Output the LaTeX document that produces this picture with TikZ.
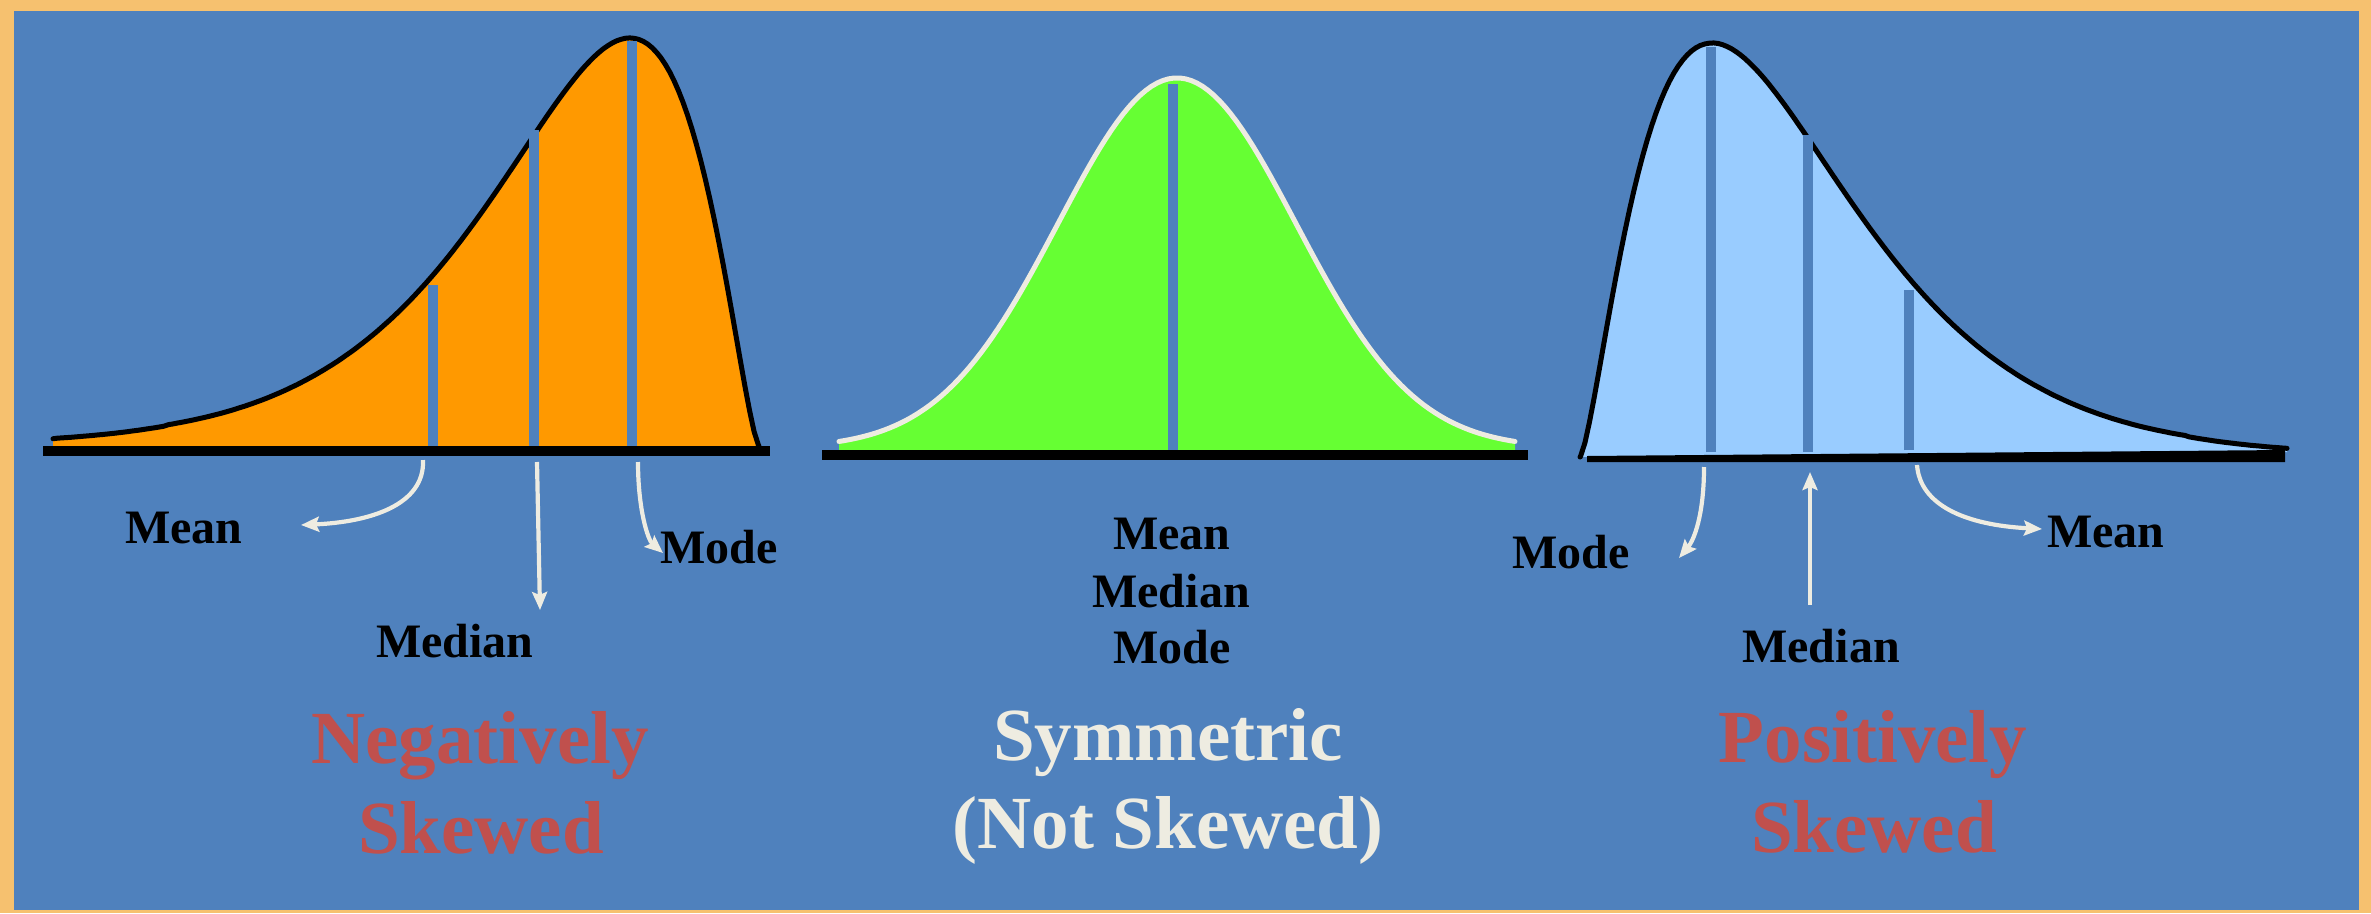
\documentclass[tikz,border=0pt]{standalone}
\usepackage{fontspec}
\setmainfont{Liberation Serif}
\usetikzlibrary{arrows.meta}
\definecolor{frameorange}{HTML}{F6C16F}
\definecolor{bgblue}{HTML}{4F81BD}
\definecolor{fillorange}{HTML}{FF9900}
\definecolor{fillgreen}{HTML}{66FF33}
\definecolor{filllightblue}{HTML}{99CCFF}
\definecolor{creamc}{HTML}{EEECE1}
\definecolor{titlered}{HTML}{C0504D}
\begin{document}
\begin{tikzpicture}[x=1pt,y=-1pt,
  lbl/.style={font=\fontsize{48}{52}\selectfont\bfseries, text=black, inner sep=0pt, anchor=base},
  ttl/.style={font=\fontsize{75}{80}\selectfont\bfseries, inner sep=0pt, anchor=base},
  ptr/.style={draw=creamc, line width=4.2pt, -{Stealth[length=18pt,width=15pt,inset=3pt]}},
  marker/.style={draw=bgblue, line width=10pt},
  curveline/.style={line width=5pt, line join=round, line cap=round}
]
\useasboundingbox (0,0) rectangle (2371,913);
\fill[frameorange] (0,0) rectangle (2371,913);
\fill[bgblue] (14,11) rectangle (2359,910);

% ---------- negatively skewed (mirrored gamma shape) ----------
\fill[fillorange] (53,446) -- plot[domain=53:758.5,samples=160]
  (\x,{446-408*((759-\x)/129*exp(1-(759-\x)/129))^1.45}) -- (759,446) -- cycle;
\draw[curveline] plot[domain=53:758.5,samples=160]
  (\x,{446-408*((759-\x)/129*exp(1-(759-\x)/129))^1.45}) -- (759,446);
\draw[marker] (433,446) -- (433,285);
\draw[marker] (534,446) -- (534,130);
\draw[marker] (632,446) -- (632,41);
\fill[black] (43,446) rectangle (770,456);

% ---------- symmetric ----------
\fill[fillgreen] (839,450) -- plot[domain=839:1515,samples=120] (\x,{448-370*exp(-0.5*((\x-1177)/119)^2)}) -- (1515,450) -- cycle;
\draw[curveline,draw=creamc] plot[domain=839:1515,samples=120] (\x,{448-370*exp(-0.5*((\x-1177)/119)^2)});
\draw[marker] (1173,451) -- (1173,84);
\fill[black] (822,450) rectangle (1528,460);

% ---------- positively skewed (gamma shape) ----------
\fill[filllightblue] (1580,457) -- plot[domain=1580.5:2287,samples=160]
  (\x,{457-414*((\x-1580)/132*exp(1-(\x-1580)/132))^1.45}) -- (2287,452) -- cycle;
\draw[curveline] (1580,457) -- plot[domain=1580.5:2287,samples=160]
  (\x,{457-414*((\x-1580)/132*exp(1-(\x-1580)/132))^1.45});
\draw[marker] (1711,452) -- (1711,47);
\draw[marker] (1808,452) -- (1808,135);
\draw[marker] (1909,450) -- (1909,290);
\fill[black] (1587,456) -- (2285,450) -- (2285,462) -- (1587,462) -- cycle;

% ---------- labels ----------
\node[lbl] (meanL) at (184,543) {Mean};
\node[lbl] (medianL) at (455,657) {Median};
\node[lbl] (modeL) at (719,563) {Mode};
\node[lbl] (meanS) at (1172,549) {Mean};
\node[lbl] (medianS) at (1171,607) {Median};
\node[lbl] (modeS) at (1172,663) {Mode};
\node[lbl] (modeR) at (1571,568) {Mode};
\node[lbl] (medianR) at (1821,662) {Median};
\node[lbl] (meanR) at (2106,547) {Mean};

\node[ttl,text=titlered] (negA) at (480,763) {Negatively};
\node[ttl,text=titlered] (negB) at (481,853) {Skewed};
\node[ttl,text=creamc] (symA) at (1168,760) {Symmetric};
\node[ttl,text=creamc] (symB) at (1168,848) {(Not Skewed)};
\node[ttl,text=titlered] (posA) at (1873,762) {Positively};
\node[ttl,text=titlered] (posB) at (1874,852) {Skewed};

% ---------- arrows ----------
\coordinate (aMeanL0) at (423,460);   \coordinate (aMeanL1) at (301,525);
\coordinate (aMedL0) at (537,462);    \coordinate (aMedL1) at (540,610);
\coordinate (aModeL0) at (638,462);   \coordinate (aModeL1) at (663,553);
\coordinate (aModeR0) at (1704,467);  \coordinate (aModeR1) at (1679,558);
\coordinate (aMedR0) at (1810,605);   \coordinate (aMedR1) at (1810,472);
\coordinate (aMeanR0) at (1917,465);  \coordinate (aMeanR1) at (2042,529);

\draw[ptr] (aMeanL0) .. controls (425,505) and (370,522) .. (aMeanL1);
\draw[ptr] (aMedL0) -- (aMedL1);
\draw[ptr] (aModeL0) .. controls (638,510) and (648,540) .. (aModeL1);
\draw[ptr] (aModeR0) .. controls (1704,515) and (1694,540) .. (aModeR1);
\draw[ptr] (aMedR0) -- (aMedR1);
\draw[ptr] (aMeanR0) .. controls (1920,505) and (1965,525) .. (aMeanR1);
\end{tikzpicture}
\end{document}
